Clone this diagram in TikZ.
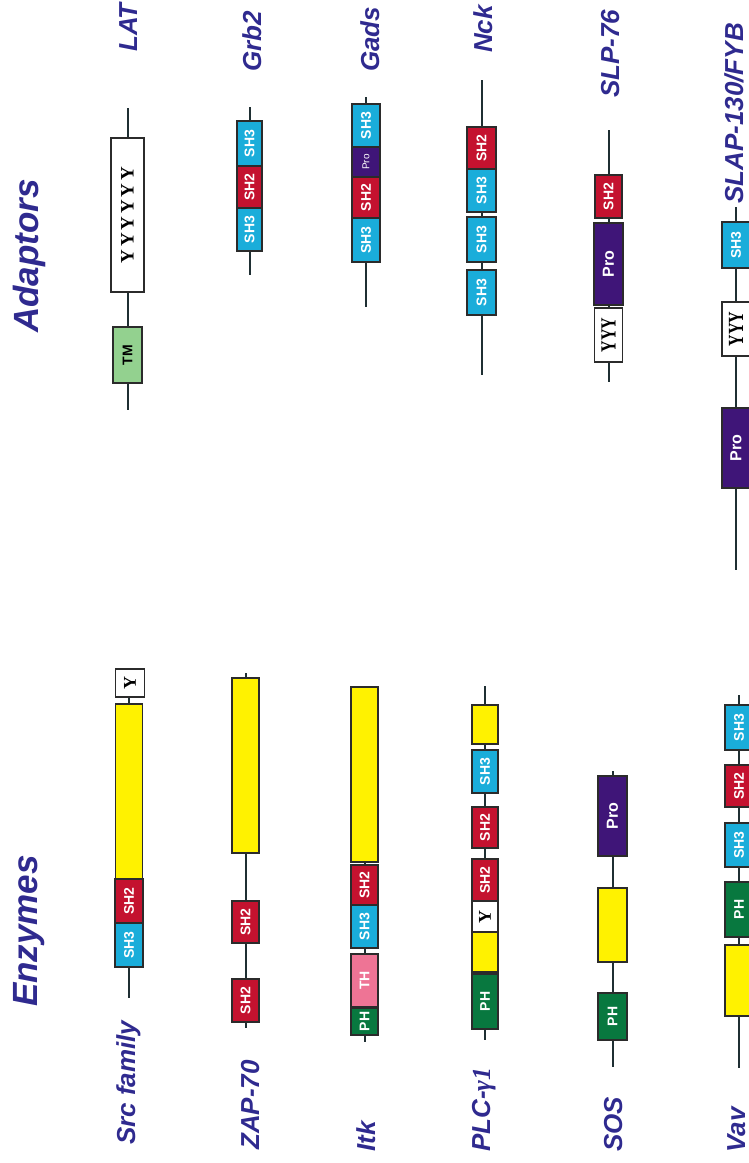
\documentclass[tikz,border=0pt]{standalone}
\usepackage{fontspec}
\setmainfont{Liberation Sans}
\newfontfamily\serifY{Liberation Serif}
\usepackage{graphicx}
\definecolor{yelc}{HTML}{FFF200}
\definecolor{sh2c}{HTML}{C4122F}
\definecolor{sh3c}{HTML}{1AADDA}
\definecolor{phc}{HTML}{08783F}
\definecolor{proc}{HTML}{3F1578}
\definecolor{thc}{HTML}{EE7495}
\definecolor{tmc}{HTML}{93D18F}
\definecolor{outc}{HTML}{2B2B2B}
\definecolor{bbc}{HTML}{1F2F33}
\definecolor{labc}{HTML}{2F2A8F}
\tikzset{
 bb/.style={line width=2pt, draw=bbc},
 lbl/.style={rotate=90, anchor=base west, inner sep=0pt, text=labc, font=\fontsize{26}{26}\selectfont\bfseries\itshape},
 ttl/.style={lbl, font=\fontsize{35}{35}\selectfont\bfseries\itshape},
 dom/.style={draw=outc, line width=1.1pt, rotate=90, inner sep=0pt, text=white, font=\fontsize{14}{14}\selectfont\bfseries},
 sh2/.style={dom, fill=sh2c},
 sh3/.style={dom, fill=sh3c},
 phd/.style={dom, fill=phc},
 prod/.style={dom, fill=proc, font=\fontsize{16}{16}\selectfont\bfseries},
 prosm/.style={dom, fill=proc, font=\fontsize{10}{10}\selectfont},
 yeld/.style={dom, fill=yelc},
 tyr/.style={dom, fill=white, text=black, font=\fontsize{18}{18}\selectfont\serifY\bfseries},
 tmd/.style={dom, fill=tmc, text=black},
 thd/.style={dom, fill=thc},
}
\newcommand{\dbx}[7]{\node[#1, minimum width={(#5-#4)*1pt}, minimum height={#6*1pt}] (#2) at (#3,{(#4+#5)/2}) {#7};}
\newcommand{\ys}{\hspace{0.15em}}
\begin{document}
\begin{tikzpicture}[x=1pt,y=-1pt]
\useasboundingbox (0,0) rectangle (749,1163);
\clip (0,0) rectangle (749,1163);
% titles
\node[ttl] (tadapt) at (38,333) {Adaptors};
\node[ttl] (tenz) at (37,1007) {Enzymes};
% labels
\node[lbl] (lat-l) at (137,52) {LAT};
\node[lbl] (grb-l) at (261,72) {Grb2};
\node[lbl] (gads-l) at (379,72) {Gads};
\node[lbl] (nck-l) at (492,53) {Nck};
\node[lbl] (slp-l) at (619,98) {SLP-76};
\node[lbl] (slap-l) at (743,204) {SLAP-130/FYB};
\node[lbl] (src-l) at (135,1145) {Src family};
\node[lbl] (zap-l) at (259,1150) {ZAP-70};
\node[lbl] (itk-l) at (375,1152) {Itk};
\node[lbl] (plc-l) at (490,1152) {PLC-{\serifY\itshape γ1}};
\node[lbl] (sos-l) at (622,1152) {SOS};
\node[lbl] (vav-l) at (745,1153) {Vav};
% backbones
\coordinate (lat-t) at (127.5,108); \coordinate (lat-b) at (127.5,410);
\coordinate (grb-t) at (249.5,107); \coordinate (grb-b) at (249.5,275);
\coordinate (gads-t) at (366,97); \coordinate (gads-b) at (366,307);
\coordinate (nck-t) at (481.5,80); \coordinate (nck-b) at (481.5,375);
\coordinate (slp-t) at (608.5,130); \coordinate (slp-b) at (608.5,382);
\coordinate (slap-t) at (736,207); \coordinate (slap-b) at (736,570);
\coordinate (src-t) at (129,683); \coordinate (src-b) at (129,998);
\coordinate (zap-t) at (245.5,673); \coordinate (zap-b) at (245.5,1028);
\coordinate (itk-t) at (364.5,700); \coordinate (itk-b) at (364.5,1042);
\coordinate (plc-t) at (485,686); \coordinate (plc-b) at (485,1040);
\coordinate (sos-t) at (612.5,771); \coordinate (sos-b) at (612.5,1067);
\coordinate (vav-t) at (739,695); \coordinate (vav-b) at (739,1068);
\foreach \p in {lat,grb,gads,nck,slp,slap,src,zap,itk,plc,sos,vav}{\draw[bb] (\p-t) -- (\p-b);}
% LAT
\dbx{tyr,font=\fontsize{19}{19}\selectfont\serifY\bfseries}{lat-y}{127.5}{138}{292}{33}{Y\ys Y\ys Y\ys Y\ys Y\ys Y}
\dbx{tmd}{lat-tm}{127.5}{327}{383}{29}{TM}
% Grb2
\dbx{sh3}{grb-a}{249.5}{121}{166}{25}{SH3}
\dbx{sh2}{grb-b2}{249.5}{166}{208}{25}{SH2}
\dbx{sh3}{grb-c}{249.5}{208}{251}{25}{SH3}
% Gads
\dbx{sh3}{gads-a}{366}{104}{147}{28}{SH3}
\dbx{prosm}{gads-p}{366}{147}{177}{28}{Pro}
\dbx{sh2}{gads-c}{366}{177}{218}{28}{SH2}
\dbx{sh3}{gads-d}{366}{218}{262}{28}{SH3}
% Nck
\dbx{sh2}{nck-a}{481.5}{127}{169}{29}{SH2}
\dbx{sh3}{nck-b2}{481.5}{169}{212}{29}{SH3}
\dbx{sh3}{nck-c}{481.5}{217}{262}{29}{SH3}
\dbx{sh3}{nck-d}{481.5}{270}{315}{29}{SH3}
% SLP-76
\dbx{sh2}{slp-a}{608.5}{175}{218}{27}{SH2}
\dbx{prod}{slp-p}{608.5}{223}{305}{29}{Pro}
\dbx{tyr,font=\fontsize{16}{16}\selectfont\serifY\bfseries}{slp-y}{608.5}{308}{362}{28}{\scalebox{1}[1.35]{YYY}}
% SLAP-130/FYB
\dbx{sh3}{slap-a}{736}{222}{268}{28}{SH3}
\dbx{tyr,font=\fontsize{16}{16}\selectfont\serifY\bfseries}{slap-y}{736}{302}{356}{28}{\scalebox{1}[1.35]{YYY}}
\dbx{prod}{slap-p}{736}{408}{488}{28}{Pro}
% Src
\dbx{tyr}{src-y}{130}{669}{697}{29}{Y}
\dbx{yeld}{src-k}{129}{704}{879}{27}{}
\dbx{sh2}{src-a}{129}{879}{923}{28}{SH2}
\dbx{sh3}{src-c}{129}{923}{967}{28}{SH3}
% ZAP-70
\dbx{yeld}{zap-k}{245.5}{678}{853}{27}{}
\dbx{sh2}{zap-a}{245.5}{901}{943}{27}{SH2}
\dbx{sh2}{zap-c}{245.5}{979}{1022}{27}{SH2}
% Itk
\dbx{yeld}{itk-k}{364.5}{687}{862}{27}{}
\dbx{sh2}{itk-a}{364.5}{865}{905}{27}{SH2}
\dbx{sh3}{itk-c}{364.5}{905}{948}{27}{SH3}
\dbx{thd}{itk-th}{364.5}{954}{1007}{27}{TH}
\dbx{phd}{itk-ph}{364.5}{1008}{1035}{27}{PH}
% PLC-gamma1
\dbx{yeld}{plc-k}{485}{705}{744}{26}{}
\dbx{sh3}{plc-a}{485}{750}{793}{26}{SH3}
\dbx{sh2}{plc-c}{485}{807}{848}{26}{SH2}
\dbx{sh2}{plc-d}{485}{859}{901}{26}{SH2}
\dbx{tyr}{plc-y}{485}{901}{932}{26}{Y}
\dbx{yeld}{plc-e}{485}{932}{972}{26}{}
\dbx{phd}{plc-ph}{485}{974}{1029}{26}{PH}
% SOS
\dbx{prod}{sos-p}{612.5}{776}{856}{29}{Pro}
\dbx{yeld}{sos-k}{612.5}{888}{962}{29}{}
\dbx{phd}{sos-ph}{612.5}{993}{1040}{29}{PH}
% Vav
\dbx{sh3}{vav-a}{739}{705}{750}{28}{SH3}
\dbx{sh2}{vav-c}{739}{765}{807}{28}{SH2}
\dbx{sh3}{vav-d}{739}{823}{867}{28}{SH3}
\dbx{phd}{vav-ph}{739}{882}{937}{28}{PH}
\dbx{yeld}{vav-k}{739}{945}{1016}{28}{}
\end{tikzpicture}
\end{document}
